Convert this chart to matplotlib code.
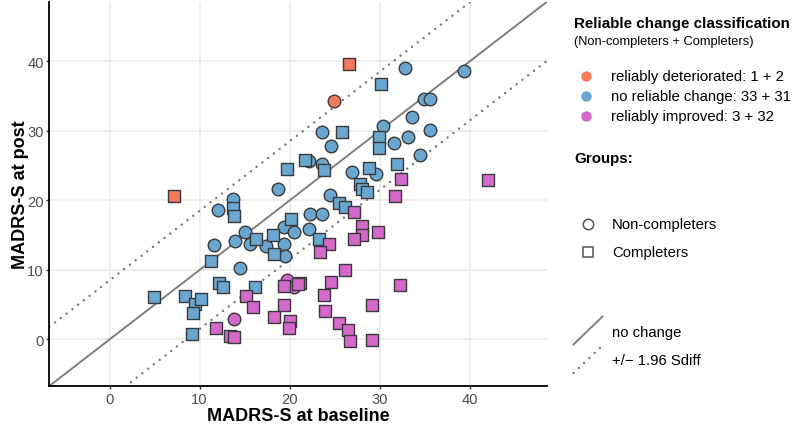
import matplotlib

matplotlib.use("Agg")
import matplotlib.pyplot as plt
from matplotlib.lines import Line2D

plt.rcParams["font.family"] = ["Liberation Sans", "DejaVu Sans"]

# reliably deteriorated
det_nc_base = [24.9]
det_nc_post = [34.3]
det_c_base = [7.2, 26.6]
det_c_post = [20.7, 39.7]

# no reliable change
none_nc_base = [18.7, 13.7, 12.1, 15.1, 13.9, 11.6, 15.6, 17.4, 19.4, 19.5, 19.4,
                14.5, 23.6, 24.6, 22.2, 23.6, 26.9, 29.6, 24.5, 30.4, 31.6, 33.2,
                33.6, 35.6, 34.5, 34.9, 35.6, 32.8, 39.4, 22.3, 23.6, 20.5, 22.2]
none_nc_post = [21.7, 20.2, 18.6, 15.5, 14.1, 13.6, 13.8, 13.5, 13.75, 12.0, 16.2,
                10.3, 29.9, 27.9, 25.7, 25.3, 24.1, 23.8, 20.8, 30.7, 28.2, 29.1,
                32.0, 30.2, 26.6, 34.6, 34.6, 39.0, 38.6, 18.1, 18.0, 15.5, 15.9]
none_c_base = [19.7, 13.7, 13.8, 16.3, 18.2, 18.3, 11.3, 20.2, 30.1, 25.8, 29.9,
               29.9, 21.7, 23.8, 28.8, 31.9, 27.8, 28.0, 28.6, 25.5, 26.2, 23.3,
               4.9, 8.4, 9.5, 10.2, 9.3, 9.2, 12.2, 12.6, 16.2]
none_c_post = [24.5, 18.9, 17.7, 14.5, 15.1, 12.3, 11.3, 17.3, 36.7, 29.8, 29.2,
               27.5, 25.8, 24.4, 24.6, 25.3, 22.3, 21.7, 21.2, 19.7, 19.1, 14.5,
               6.1, 6.2, 5.1, 5.75, 3.8, 0.8, 8.1, 7.6, 7.6]

# reliably improved
imp_nc_base = [13.8, 19.7, 20.5]
imp_nc_post = [2.9, 8.5, 7.5]
imp_c_base = [32.4, 31.7, 42.0, 27.2, 28.0, 28.0, 27.1, 29.8, 24.4, 23.4, 26.2,
              24.6, 32.3, 23.8, 21.2, 19.4, 19.4, 23.9, 29.2, 20.0, 19.9, 25.5,
              26.5, 26.7, 29.2, 15.2, 15.9, 11.8, 13.4, 13.8, 18.3, 20.9]
imp_c_post = [23.1, 20.6, 22.9, 18.3, 16.3, 15.1, 14.5, 15.4, 13.8, 12.6, 10.0,
              8.2, 7.8, 6.4, 8.15, 7.7, 4.9, 4.1, 4.9, 2.6, 1.6, 2.4,
              1.3, -0.2, -0.1, 6.2, 4.6, 1.7, 0.5, 0.4, 3.2, 8.0]

rc_limit = 8.5  # 1.96 * Sdiff
ticks = [0, 10, 20, 30, 40]
lims = (-6.7, 48.6)

class_labels = ["reliably deteriorated: 1 + 2",
                "no reliable change: 33 + 31",
                "reliably improved: 3 + 32"]
group_labels = ["Non-completers", "Completers"]

COL_DET = "#F7795D"
COL_NONE = "#6AA7D0"
COL_IMP = "#D468CB"
EDGE = "#3a3a3a"

fig = plt.figure(figsize=(7.94, 4.31), dpi=100)
ax = fig.add_axes([49.3 / 794, 44 / 431, 497.7 / 794, 384.3 / 431])

ax.set_xlim(*lims)
ax.set_ylim(*lims)
ax.set_xticks(ticks)
ax.set_yticks(ticks)
ax.grid(True, color="#ebebeb", lw=1.2)
ax.set_axisbelow(True)
for side in ["top", "right"]:
    ax.spines[side].set_visible(False)
for side in ["left", "bottom"]:
    ax.spines[side].set_linewidth(1.3)
    ax.spines[side].set_color("black")
ax.tick_params(length=2.5, width=1.0, color="#333333", labelsize=10.6,
               labelcolor="#4d4d4d", pad=1.5)

xs = [lims[0], lims[1]]
ax.plot(xs, xs, color="#7f7f7f", lw=1.4, zorder=2)
dots = dict(color="#7a7a7a", lw=1.8, dashes=(0.01, 2.9), dash_capstyle="round", zorder=2)
ax.plot(xs, [v + rc_limit for v in xs], **dots)
ax.plot(xs, [v - rc_limit for v in xs], **dots)

circle_size = 82
square_size = 64
groups = [
    (det_nc_base, det_nc_post, COL_DET, "o", circle_size),
    (det_c_base, det_c_post, COL_DET, "s", square_size),
    (none_nc_base, none_nc_post, COL_NONE, "o", circle_size),
    (none_c_base, none_c_post, COL_NONE, "s", square_size),
    (imp_nc_base, imp_nc_post, COL_IMP, "o", circle_size),
    (imp_c_base, imp_c_post, COL_IMP, "s", square_size),
]
for bx, py, col, mk, sz in groups:
    ax.scatter(bx, py, s=sz, marker=mk, color=col, edgecolors=EDGE,
               linewidths=1.0, zorder=3, clip_on=False)

ax.set_xlabel("MADRS-S at baseline", fontsize=13, fontweight="bold", labelpad=1)
ax.set_ylabel("MADRS-S at post", fontsize=13, fontweight="bold", labelpad=-1)

# legend drawn in figure pixel coordinates
lg = fig.add_axes([0, 0, 1, 1], zorder=-1)
lg.set_xlim(0, 794)
lg.set_ylim(431, 0)
lg.axis("off")

lg.text(574, 24, "Reliable change classification", fontsize=10.9,
        fontweight="bold", va="center", ha="left")
lg.text(574, 42, "(Non-completers + Completers)", fontsize=9.3,
        va="center", ha="left")
for yy, col, lab in zip([77, 97, 117], [COL_DET, COL_NONE, COL_IMP], class_labels):
    lg.plot(586, yy, "o", ms=7.5, color=col, mec="none")
    lg.text(611, yy, lab, fontsize=10.7, va="center", ha="left")

lg.text(574, 159, "Groups:", fontsize=10.9, fontweight="bold",
        va="center", ha="left")
for yy, mk, lab in zip([225, 253], ["o", "s"], group_labels):
    lg.plot(588, yy, mk, ms=7.5 if mk == "o" else 6.5, mfc="none",
            mec="#555555", mew=1.1)
    lg.text(612, yy, lab, fontsize=10.7, va="center", ha="left")

lg.add_line(Line2D([573.5, 602.5], [345.5, 317.5], color="#7f7f7f", lw=1.4))
lg.add_line(Line2D([573.5, 601], [374, 348], **dots))
lg.text(612, 333, "no change", fontsize=10.7, va="center", ha="left")
lg.text(612, 361, "+/\u2212 1.96 Sdiff", fontsize=10.7, va="center", ha="left")

fig.savefig("out.png", dpi=100)
